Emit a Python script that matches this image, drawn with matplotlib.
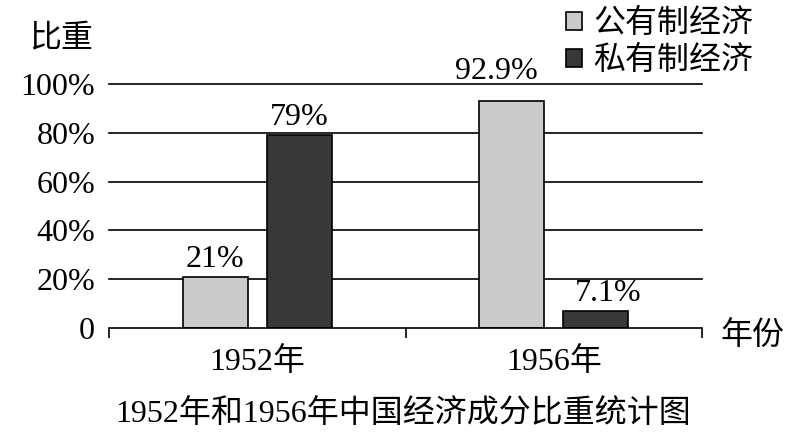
import matplotlib
matplotlib.use("Agg")
import matplotlib.pyplot as plt
import numpy as np
from matplotlib.patches import Patch

years = ["1952年", "1956年"]
series_names = ["公有制经济", "私有制经济"]
public_vals = [21, 92.9]
private_vals = [79, 7.1]
value_labels_public = ["21%", "92.9%"]
value_labels_private = ["79%", "7.1%"]
yticks = [0, 20, 40, 60, 80, 100]
ytick_labels = ["0", "20%", "40%", "60%", "80%", "100%"]
title = "1952年和1956年中国经济成分比重统计图"

FONT = ["Liberation Serif", "Noto Sans CJK SC"]
plt.rcParams["font.family"] = FONT
FS = 23

fig = plt.figure(figsize=(7.94, 4.45), dpi=100)
ax = fig.add_axes([109/794, 117/445, (702-109)/794, (328-84)/445])

light = "#cbcbcb"
dark = "#393737"
x = np.arange(len(years))
w = 0.22
off = 0.142

b1 = ax.bar(x - off, public_vals, w, color=light, edgecolor="black", linewidth=1.2, zorder=3)
b2 = ax.bar(x + off, private_vals, w, color=dark, edgecolor="black", linewidth=1.2, zorder=3)

ax.set_xlim(-0.5, 1.5)
ax.set_ylim(0, 100)
ax.set_yticks(yticks)
ax.set_yticklabels(ytick_labels, fontsize=FS)
ax.tick_params(axis="y", length=0, pad=10)
ax.set_xticks(x)
ax.set_xticklabels(years, fontsize=FS)
ax.set_xticks([-0.5, 0.5, 1.5], minor=True)
ax.tick_params(axis="x", which="major", length=0, pad=14)
ax.tick_params(axis="x", which="minor", length=7, width=1.2, direction="out")

for yv in yticks[1:]:
    ax.axhline(yv, color="black", linewidth=1.2, zorder=1, clip_on=False)

for s in ["top", "right", "left"]:
    ax.spines[s].set_visible(False)
ax.spines["bottom"].set_linewidth(1.2)
ax.spines["bottom"].set_zorder(4)

# value labels
for i, (v, lab) in enumerate(zip(public_vals, value_labels_public)):
    if v > 90:
        ax.annotate(lab, xy=(x[i] - off, 100), xytext=(-15, -2), textcoords="offset pixels",
                    ha="center", va="bottom", fontsize=FS)
    else:
        ax.annotate(lab, xy=(x[i] - off, v), xytext=(0, 3), textcoords="offset pixels",
                    ha="center", va="bottom", fontsize=FS)
for i, (v, lab) in enumerate(zip(private_vals, value_labels_private)):
    dx = 12 if v < 10 else 0
    ax.annotate(lab, xy=(x[i] + off, v), xytext=(dx, 3), textcoords="offset pixels",
                ha="center", va="bottom", fontsize=FS)

fig.text(61/794, 1 - 40/445, "比重", ha="center", va="center", fontsize=FS)
fig.text(752/794, 1 - 337/445, "年份", ha="center", va="center", fontsize=FS)
fig.text(403/794, 1 - 414/445, title, ha="center", va="center", fontsize=FS)

handles = [Patch(facecolor=light, edgecolor="black", linewidth=1.2),
           Patch(facecolor=dark, edgecolor="black", linewidth=1.2)]
fig.legend(handles, series_names, loc="upper left", bbox_to_anchor=(566/794, 1 - 9/445),
           frameon=False, fontsize=FS, handlelength=0.5, handleheight=0.5,
           handletextpad=0.35, labelspacing=0.22, borderpad=0, borderaxespad=0)

fig.savefig("out.png", dpi=100, facecolor="white")
